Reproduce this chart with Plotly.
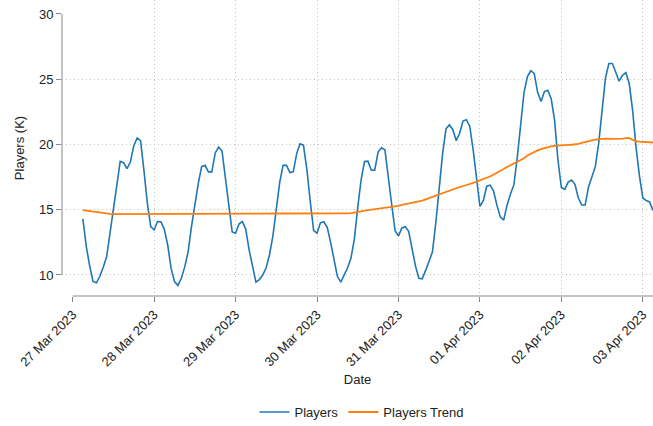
import pandas as pd
import plotly.graph_objects as go

# ---- data (hourly, thousands of players) ----
start_time = "2023-03-27 03:00"

players = [
    # 27 Mar 03:00 - 23:00
    14.3, 12.2, 10.7, 9.5, 9.4, 9.9, 10.6, 11.4, 13.2, 15.0, 16.8, 18.7, 18.6, 18.15,
    18.65, 19.9, 20.5, 20.3, 18.0, 15.5, 13.7,
    # 28 Mar
    13.45, 14.1, 14.08, 13.5, 12.3, 10.5, 9.5, 9.2, 9.75, 10.6, 11.75, 13.7, 15.5, 17.0,
    18.3, 18.4, 17.9, 17.9, 19.35, 19.8, 19.5, 17.5, 15.2, 13.3,
    # 29 Mar
    13.2, 13.9, 14.1, 13.5, 11.9, 10.55, 9.45, 9.65, 10.0, 10.55, 11.55, 13.0, 15.0, 17.1,
    18.4, 18.4, 17.85, 17.9, 19.3, 20.05, 19.95, 18.1, 15.65, 13.4,
    # 30 Mar
    13.2, 14.0, 14.08, 13.65, 12.5, 11.05, 9.9, 9.46, 10.0, 10.55, 11.3, 12.75, 15.2, 17.3,
    18.7, 18.72, 18.03, 18.03, 19.44, 19.75, 19.6, 17.7, 15.4, 13.4,
    # 31 Mar
    13.0, 13.6, 13.7, 13.35, 12.1, 10.7, 9.75, 9.7, 10.35, 11.0, 11.75, 14.0, 16.96, 19.3,
    21.2, 21.5, 21.15, 20.3, 20.84, 21.8, 21.9, 21.4, 19.6, 17.2,
    # 01 Apr
    15.25, 15.7, 16.8, 16.88, 16.45, 15.35, 14.45, 14.2, 15.35, 16.2, 16.9, 19.0, 21.6, 24.0,
    25.2, 25.65, 25.45, 24.0, 23.3, 24.05, 24.15, 23.5, 21.86, 18.8,
    # 02 Apr
    16.7, 16.56, 17.12, 17.27, 16.95, 15.9, 15.36, 15.36, 16.75, 17.45, 18.3, 20.1, 22.8, 25.1,
    26.2, 26.2, 25.55, 24.85, 25.3, 25.5, 24.67, 22.6, 19.8, 17.6,
    # 03 Apr 00:00 - 03:00
    15.9, 15.7, 15.6, 14.95,
]

players_trend = [
    # 27 Mar 03:00 - 23:00
    14.97, 14.93, 14.88, 14.84, 14.8, 14.77, 14.74, 14.71, 14.68,
    14.67, 14.67, 14.68, 14.68, 14.69, 14.7, 14.7, 14.7, 14.7, 14.7, 14.7, 14.69,
    # 28 Mar
    14.68, 14.67, 14.66, 14.65, 14.65, 14.65, 14.65, 14.66, 14.66, 14.67, 14.67, 14.68,
    14.68, 14.68, 14.68, 14.68, 14.68, 14.68, 14.68, 14.68, 14.68, 14.68, 14.68, 14.68,
    # 29 Mar
    14.68, 14.68, 14.68, 14.69, 14.69, 14.7, 14.7, 14.7, 14.7, 14.7, 14.7, 14.71,
    14.71, 14.72, 14.72, 14.72, 14.72, 14.72, 14.73, 14.73, 14.72, 14.71, 14.7, 14.69,
    # 30 Mar
    14.68, 14.68, 14.68, 14.68, 14.68, 14.69, 14.69, 14.7, 14.71, 14.72, 14.74, 14.77,
    14.82, 14.88, 14.93, 14.97, 15.0, 15.04, 15.08, 15.12, 15.15, 15.18, 15.2, 15.25,
    # 31 Mar
    15.3, 15.38, 15.43, 15.47, 15.52, 15.57, 15.62, 15.7, 15.8, 15.9, 15.99, 16.08,
    16.18, 16.29, 16.4, 16.5, 16.6, 16.67, 16.74, 16.8, 16.87, 16.95, 17.05, 17.15,
    # 01 Apr
    17.27, 17.36, 17.45, 17.55, 17.68, 17.82, 17.97, 18.12, 18.27, 18.4, 18.52, 18.65,
    18.8, 18.95, 19.15, 19.3, 19.45, 19.55, 19.65, 19.73, 19.8, 19.85, 19.9, 19.93,
    # 02 Apr
    19.95, 19.96, 19.97, 19.98, 20.0, 20.05, 20.12, 20.2, 20.28, 20.34, 20.38, 20.41,
    20.43, 20.45, 20.45, 20.43, 20.42, 20.42, 20.45, 20.49, 20.48, 20.35, 20.25, 20.22,
    # 03 Apr
    20.2, 20.2, 20.17, 20.15,
]

tick_dates = ["2023-03-27", "2023-03-28", "2023-03-29", "2023-03-30",
              "2023-03-31", "2023-04-01", "2023-04-02", "2023-04-03"]
y_ticks = [10, 15, 20, 25, 30]
y_grid = [10, 15, 20, 25]

times = pd.date_range(start_time, periods=len(players), freq="h")

# ---- styling ----
FONT = "Liberation Sans, Arial, sans-serif"
TXT = "#222222"
AXC = "#888888"
GRID = "#c4c4c4"
GRID_DASH = "1px,3px"

x_range = [pd.Timestamp(tick_dates[0]) - pd.Timedelta(minutes=189), times[-1]]
y_range = [8.39, 31.07]

fig = go.Figure()
fig.add_trace(go.Scatter(
    x=times, y=players, name="Players", mode="lines",
    line=dict(color="#1f77b4", width=1.6),
))
fig.add_trace(go.Scatter(
    x=times, y=players_trend, name="Players Trend", mode="lines",
    line=dict(color="#ff7f0e", width=1.8),
    xaxis="x2", yaxis="y2",
))

fig.update_layout(
    width=653, height=426,
    margin=dict(l=62, r=0, t=0, b=130, autoexpand=False),
    paper_bgcolor="white", plot_bgcolor="white",
    font=dict(family=FONT, size=13, color=TXT),
    showlegend=True,
    legend=dict(orientation="h", x=0.5076, xanchor="center", y=-0.392, yanchor="middle",
                font=dict(size=13, color=TXT), bgcolor="rgba(0,0,0,0)"),
    xaxis=dict(
        automargin=False,
        range=x_range, tickvals=tick_dates, tickformat="%d %b %Y", tickangle=-45,
        ticks="outside", ticklen=5, tickcolor=AXC, tickwidth=1,
        showgrid=False, zeroline=False, showline=False,
        title=dict(text="Date", standoff=6, font=dict(size=13, color=TXT)),
        tickfont=dict(size=13, color=TXT),
    ),
    xaxis2=dict(
        automargin=False,
        overlaying="x", anchor="y2", range=x_range, tickvals=tick_dates[1:],
        showgrid=True, gridcolor=GRID, griddash=GRID_DASH, gridwidth=1,
        showticklabels=False, ticks="", showline=False, zeroline=False,
    ),
    yaxis=dict(
        automargin=False,
        range=y_range, tickvals=y_ticks,
        ticks="outside", ticklen=5, tickcolor=AXC, tickwidth=1,
        showgrid=False, zeroline=False, showline=False,
        title=dict(text="Players (K)", standoff=11, font=dict(size=13, color=TXT)),
        tickfont=dict(size=13, color=TXT),
    ),
    yaxis2=dict(
        automargin=False,
        overlaying="y", anchor="x2", side="left", range=y_range, tickvals=y_grid,
        showgrid=True, gridcolor=GRID, griddash=GRID_DASH, gridwidth=1,
        showticklabels=False, ticks="", showline=False, zeroline=False,
    ),
    shapes=[
        # x axis line (starts at first date tick)
        dict(type="line", xref="x", yref="paper", x0=tick_dates[0], x1=times[-1],
             y0=0, y1=0, line=dict(color=AXC, width=1)),
        # y axis line (spans labelled ticks only)
        dict(type="line", xref="paper", yref="y", x0=0, x1=0,
             y0=y_ticks[0], y1=y_ticks[-1], line=dict(color=AXC, width=1)),
    ],
)

fig.write_html("out.html", config={"displayModeBar": False},
               post_script="document.body.style.margin='0';")
